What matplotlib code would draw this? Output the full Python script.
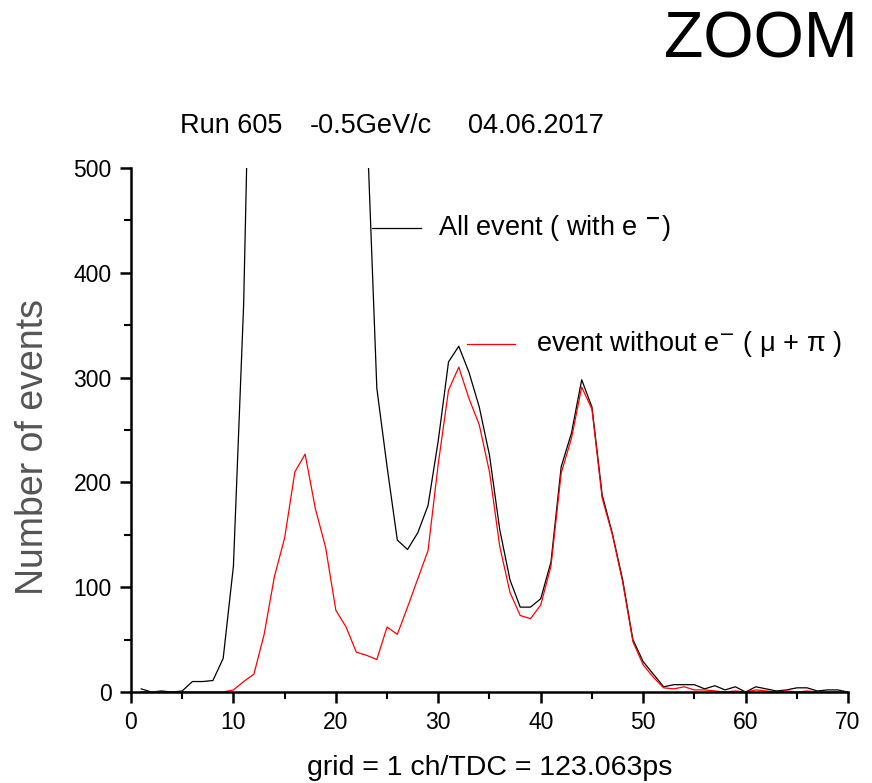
import matplotlib
matplotlib.use('Agg')
import matplotlib.pyplot as plt
from matplotlib.ticker import MultipleLocator

plt.rcParams['font.family'] = ['Liberation Sans', 'DejaVu Sans']

# ---- data ----
channel = list(range(1, 71))
all_events = [3, 0, 1, 0, 1, 10, 10, 11, 32, 120,
              370, 820, 1400, 2000, 2500, 2700, 2600, 2200, 1700, 1300,
              1000, 800, 550, 290, 215, 145, 136, 152, 178, 240,
              315, 330, 305, 272, 226, 155, 107, 81, 81, 89,
              124, 215, 247, 298, 272, 188, 151, 107, 50, 29,
              17, 5, 7, 7, 7, 3, 6, 2, 5, 0,
              5, 3, 1, 2, 4, 4, 1, 2, 2, 0]
no_electron = [0, 0, 0, 0, 0, 0, 0, 0, 0, 2,
               10, 17, 55, 110, 147, 210, 227, 175, 138, 78,
               62, 38, 35, 31, 62, 55, 81, 108, 135, 218,
               288, 310, 280, 255, 210, 139, 95, 73, 70, 83,
               120, 209, 242, 291, 270, 185, 150, 105, 48, 26,
               14, 4, 3, 5, 2, 2, 1, 0, 1, 0,
               2, 1, 0, 1, 0, 1, 0, 0, 0, 0]
x_ticks = [0, 10, 20, 30, 40, 50, 60, 70]
y_ticks = [0, 100, 200, 300, 400, 500]
title_parts = ['Run 605', '-0.5GeV/c', '04.06.2017']

fig = plt.figure(figsize=(8.72, 7.83), dpi=100)
ax = fig.add_axes([0.1502, 0.1162, 0.8223, 0.6692])

ax.plot(channel, all_events, color='black', lw=0.9)
ax.plot(channel, no_electron, color='#ff0000', lw=0.9)

ax.set_xlim(0, 70)
ax.set_ylim(0, 500)
ax.set_xticks(x_ticks)
ax.set_yticks(y_ticks)
ax.xaxis.set_minor_locator(MultipleLocator(5))
ax.yaxis.set_minor_locator(MultipleLocator(50))

for s in ['top', 'right']:
    ax.spines[s].set_visible(False)
for s in ['left', 'bottom']:
    ax.spines[s].set_linewidth(1.8)
ax.tick_params(which='major', direction='out', length=8, width=1.8, labelsize=16.5, pad=6)
ax.tick_params(which='minor', direction='out', length=5, width=1.5)

ax.set_ylabel('Number of events', fontsize=27, color='#555555')
ax.yaxis.set_label_coords(-0.111, 0.468)
ax.set_xlabel('grid = 1 ch/TDC = 123.063ps', fontsize=20.5, labelpad=15)

# title pieces placed separately (uneven gaps in the original)
for xf, s in zip([0.206, 0.3555, 0.537], title_parts):
    fig.text(xf, 0.83, s, fontsize=19.5)
fig.text(0.762, 0.926, 'ZOOM', fontsize=46.5)

# hand-made legend entries
ax.plot([23.5, 28.3], [443, 443], color='black', lw=0.9)
ax.text(30.0, 443, 'All event ( with e $^{\\mathbf{-}}$)', fontsize=19.5, va='center')
ax.plot([32.8, 37.5], [332, 332], color='#ff0000', lw=0.9)
ax.text(39.5, 332, 'event without e$^{-}$ ( μ + π )', fontsize=19.5, va='center')

fig.savefig('out.png', dpi=100)
